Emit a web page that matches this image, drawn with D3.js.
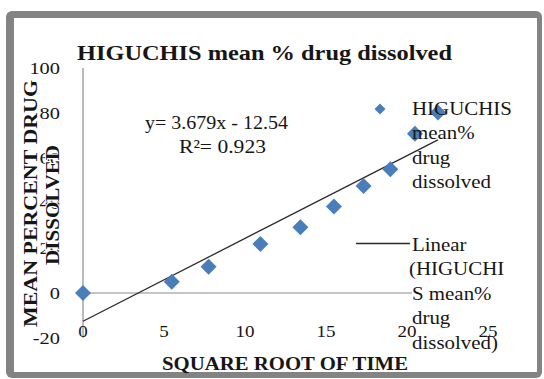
<!DOCTYPE html>
<html>
<head>
<meta charset="utf-8">
<script src="https://cdn.jsdelivr.net/npm/d3@7"></script>
<style>
  html, body { margin: 0; padding: 0; background: #fff; }
  svg { display: block; }
  text { font-family: "Liberation Serif", "Times New Roman", serif; fill: #161616; }
</style>
</head>
<body>
<svg id="chart" width="544" height="379"></svg>
<script>
// Square root of time vs mean % drug dissolved (Higuchi model)
const sqrtTime      = [0, 5.48, 7.75, 10.95, 13.42, 15.49, 17.32, 18.97, 20.49, 21.91];
const drugDissolved = [0, 5.0, 11.7, 21.8, 29.2, 38.4, 47.6, 55.0, 70.8, 80.2];

// Fitted linear trend, as printed on the chart
const trendSlope = 3.679;
const trendIntercept = -12.54;
const rSquared = 0.923;

const xTicks = [0, 5, 10, 15, 20, 25];
const yTicks = [-20, 0, 20, 40, 60, 80, 100];

const chartTitle = "HIGUCHIS mean % drug dissolved";
const xTitle = "SQUARE ROOT OF TIME";
const yTitleLines = ["MEAN PERCENT DRUG", "DISSOLVED"];
const seriesLegend = ["HIGUCHIS", "mean%", "drug", "dissolved"];
const trendLegend = ["Linear", "(HIGUCHI", "S mean%", "drug", "dissolved)"];

const svg = d3.select("#chart");

// Text drawn with a slight horizontal stretch (wide serif look)
function label(parent, str, tx, ty, opts) {
  const o = Object.assign({ size: 17, sx: 1.1, anchor: "start", weight: "normal", rotate: 0 }, opts);
  return parent.append("text")
    .attr("transform", `translate(${tx},${ty}) rotate(${o.rotate}) scale(${o.sx},1)`)
    .attr("text-anchor", o.anchor)
    .attr("font-size", o.size)
    .attr("font-weight", o.weight)
    .text(str);
}

// Outer frame with a grey rounded border
svg.append("rect").attr("x", 6).attr("y", 11).attr("width", 536).attr("height", 367)
  .attr("rx", 6).attr("fill", "#838383");
svg.append("rect").attr("x", 14).attr("y", 18).attr("width", 523).attr("height", 354)
  .attr("fill", "#fff");

const x = d3.scaleLinear().domain([0, 25]).range([83, 488]);
const y = d3.scaleLinear().domain([-20, 100]).range([338, 68]);

// Vertical value axis
svg.append("line")
  .attr("x1", x(0)).attr("x2", x(0)).attr("y1", y(100)).attr("y2", y(-20))
  .attr("stroke", "#8c8c8c").attr("stroke-width", 1.2);

// Horizontal axis crossing at zero
svg.append("line")
  .attr("x1", x(0)).attr("x2", 412).attr("y1", y(0)).attr("y2", y(0))
  .attr("stroke", "#8c8c8c").attr("stroke-width", 1.2);

// Y tick labels
const yTickG = svg.append("g");
yTicks.forEach(d => label(yTickG, d, 60, y(d) + 6, { size: 17, sx: 1.2, anchor: "end" }));

// X tick labels (placed low, under the plot)
const xTickG = svg.append("g");
xTicks.forEach(d => label(xTickG, d, x(d), 336.5, { size: 17, sx: 1.12, anchor: "middle" }));

// Trend line over the data range
const xMax = d3.max(sqrtTime);
const trendPts = [0, xMax].map(v => [v, trendSlope * v + trendIntercept]);
svg.append("path")
  .attr("d", d3.line().x(d => x(d[0])).y(d => y(d[1]))(trendPts))
  .attr("stroke", "#2b2b2b").attr("stroke-width", 1.3).attr("fill", "none");

// Data markers (diamonds)
const diamond = d3.symbol().type(d3.symbolSquare).size(128);
svg.append("g").selectAll("path").data(sqrtTime.map((v, i) => [v, drugDissolved[i]])).join("path")
  .attr("d", diamond)
  .attr("transform", d => `translate(${x(d[0])},${y(d[1])}) rotate(45)`)
  .attr("fill", "#4a7ebb");

// Title
svg.append("text")
  .attr("x", 77).attr("y", 60)
  .attr("font-size", 20).attr("font-weight", "bold")
  .attr("textLength", 375).attr("lengthAdjust", "spacingAndGlyphs")
  .text(chartTitle);

// Trend equation
svg.append("text")
  .attr("x", 145).attr("y", 129)
  .attr("font-size", 19.5)
  .attr("textLength", 143).attr("lengthAdjust", "spacingAndGlyphs")
  .text(`y= ${trendSlope}x - ${Math.abs(trendIntercept)}`);
svg.append("text")
  .attr("x", 179).attr("y", 153)
  .attr("font-size", 19.5)
  .attr("textLength", 87).attr("lengthAdjust", "spacingAndGlyphs")
  .text(`R²= ${rSquared}`);

// X axis title
svg.append("text")
  .attr("x", 162).attr("y", 370)
  .attr("font-size", 19).attr("font-weight", "bold")
  .attr("textLength", 246).attr("lengthAdjust", "spacingAndGlyphs")
  .text(xTitle);

// Y axis title (two rotated lines; the second sits over the middle tick labels)
const yTitleSpecs = [
  { bx: 37, cy: 203.5, len: 247 },
  { bx: 59, cy: 205, len: 120 }
];
yTitleLines.forEach((t, i) => {
  const s = yTitleSpecs[i];
  svg.append("text")
    .attr("transform", `translate(${s.bx},${s.cy}) rotate(-90)`)
    .attr("text-anchor", "middle")
    .attr("font-size", 18.5).attr("font-weight", "bold")
    .attr("textLength", s.len).attr("lengthAdjust", "spacingAndGlyphs")
    .attr("stroke", "#fff").attr("stroke-width", 2).attr("paint-order", "stroke")
    .text(t);
});

// Legend
svg.append("path")
  .attr("d", d3.symbol().type(d3.symbolSquare).size(60))
  .attr("transform", "translate(380,109) rotate(45)")
  .attr("fill", "#4a7ebb");
const legG = svg.append("g");
seriesLegend.forEach((t, i) => label(legG, t, 412, 115 + i * 24.3, { size: 19, sx: 1.1 }));

svg.append("line")
  .attr("x1", 356).attr("x2", 410).attr("y1", 243.5).attr("y2", 243.5)
  .attr("stroke", "#2b2b2b").attr("stroke-width", 1.3);
trendLegend.forEach((t, i) => label(legG, t, i === 1 ? 409 : 412, 251 + i * 24.4, { size: 19, sx: 1.1 }));
</script>
</body>
</html>
